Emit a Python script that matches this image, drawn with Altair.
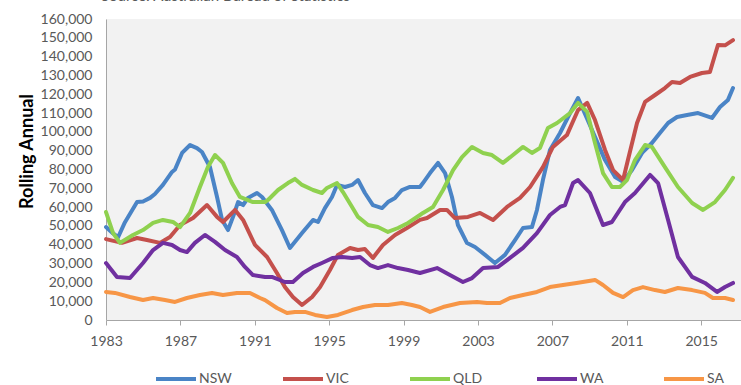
import altair as alt
import pandas as pd

TITLE = "Source: Australian Bureau of Statistics"
STATES = ["NSW", "VIC", "QLD", "WA", "SA"]
COLORS = ["#4A84C6", "#C4504C", "#8FD14F", "#7030A0", "#F79646"]
X_TICKS = [1983, 1987, 1991, 1995, 1999, 2003, 2007, 2011, 2015]

# rolling annual series: (year, value)
nsw_years = [1983.0, 1983.38, 1983.65, 1984.02, 1984.67, 1984.99, 1985.37, 1985.63, 1986.06, 1986.55,
             1986.71, 1987.09, 1987.52, 1987.89, 1988.16, 1988.59, 1988.97, 1989.24, 1989.56, 1989.83,
             1990.1, 1990.37, 1990.63, 1991.12, 1991.39, 1991.92, 1992.46, 1992.89, 1993.54, 1994.13,
             1994.4, 1994.77, 1995.15, 1995.42, 1995.85, 1996.23, 1996.55, 1996.92, 1997.35, 1997.84,
             1998.16, 1998.54, 1998.91, 1999.34, 1999.88, 2000.04, 2000.42, 2000.85, 2001.23, 2001.6,
             2001.92, 2002.41, 2002.84, 2003.38, 2003.91, 2004.45, 2004.99, 2005.42, 2005.9, 2006.17,
             2006.49, 2006.87, 2007.41, 2007.95, 2008.38, 2009.13, 2009.83, 2010.37, 2010.8, 2011.28,
             2011.82, 2012.35, 2012.78, 2013.22, 2013.7, 2014.24, 2014.83, 2015.58, 2016.01, 2016.44,
             2016.71]
nsw_values = [49400, 46000, 44000, 52000, 62700, 63000, 64900, 67000, 71800, 78700,
              80000, 88800, 93000, 91400, 89300, 81300, 65400, 53200, 47800, 54800,
              62700, 61100, 64900, 67500, 65400, 58500, 47800, 38300, 46200, 53200,
              52100, 59500, 65400, 71800, 70700, 71800, 74400, 67500, 61100, 59500,
              62700, 64900, 69100, 70700, 70700, 72800, 78100, 83500, 78100, 65400,
              50500, 40900, 38800, 34600, 30300, 34600, 42500, 48900, 49400, 58500,
              74400, 90400, 99400, 110000, 118000, 101000, 85000, 76000, 73400, 79700,
              88800, 94100, 99400, 104700, 107900, 109000, 110000, 107400, 113200, 117000,
              123300]

vic_years = [1983.0, 1983.86, 1984.67, 1985.2, 1985.9, 1986.44, 1986.98, 1987.68, 1988.43, 1988.97,
             1989.29, 1989.94, 1990.37, 1991.01, 1991.66, 1992.19, 1992.62, 1993.05, 1993.54, 1994.08,
             1994.51, 1995.04, 1995.47, 1996.12, 1996.55, 1996.92, 1997.35, 1997.89, 1998.54, 1999.18,
             1999.88, 2000.26, 2000.96, 2001.33, 2001.76, 2002.46, 2003.11, 2003.81, 2004.56, 2005.26,
             2005.8, 2006.49, 2007.03, 2007.78, 2008.38, 2008.87, 2009.29, 2009.83, 2010.26, 2010.8,
             2011.06, 2011.55, 2011.98, 2012.52, 2013.05, 2013.43, 2013.86, 2014.4, 2015.04, 2015.47,
             2015.9, 2016.28, 2016.71]
vic_values = [43000, 41000, 43600, 42500, 41000, 44100, 50500, 54200, 61100, 54800,
              52100, 58500, 53200, 39900, 33500, 25000, 17500, 12200, 8000, 12200,
              17500, 26600, 34600, 38300, 37200, 37700, 33000, 39900, 45200, 48900,
              53200, 54200, 58500, 58500, 54200, 54800, 56900, 53200, 60100, 64900,
              70700, 81300, 92000, 98300, 111600, 115400, 106300, 90400, 79700, 74400,
              85000, 104700, 115900, 119600, 123300, 126500, 126000, 129200, 131300, 131800,
              146200, 146000, 148800]

qld_years = [1983.0, 1983.38, 1983.75, 1984.45, 1984.99, 1985.53, 1986.06, 1986.6, 1986.98, 1987.52,
             1988.05, 1988.48, 1988.86, 1989.29, 1989.77, 1990.2, 1990.9, 1991.55, 1991.71, 1992.25,
             1992.78, 1993.16, 1993.54, 1994.13, 1994.61, 1994.88, 1995.42, 1995.74, 1996.23, 1996.55,
             1997.09, 1997.62, 1998.16, 1998.7, 1999.24, 1999.88, 2000.04, 2000.58, 2001.12, 2001.66,
             2002.14, 2002.68, 2003.27, 2003.75, 2004.34, 2004.88, 2005.42, 2005.9, 2006.33, 2006.76,
             2007.25, 2007.95, 2008.38, 2008.87, 2009.29, 2009.72, 2010.2, 2010.63, 2011.01, 2011.44,
             2011.98, 2012.35, 2013.05, 2013.75, 2014.51, 2015.1, 2015.74, 2016.28, 2016.71]
qld_values = [57400, 46200, 41000, 45200, 47800, 51600, 53200, 52100, 49400, 56900,
              70700, 81300, 87700, 83500, 72800, 65400, 62700, 62700, 63800, 69100,
              72800, 75000, 71800, 69100, 67500, 70200, 72800, 68000, 60100, 54800,
              50500, 49400, 46800, 48900, 51600, 55800, 56900, 60100, 69100, 79700,
              86600, 92000, 88800, 87700, 83500, 87700, 92000, 88800, 91400, 102000,
              104700, 110000, 115400, 110600, 94100, 78100, 70700, 70700, 74400, 85000,
              93000, 92000, 81300, 70700, 62200, 58500, 62700, 69100, 75500]

wa_years = [1983.0, 1983.59, 1984.29, 1984.99, 1985.53, 1986.06, 1986.55, 1986.98, 1987.35, 1987.78,
            1988.32, 1988.86, 1989.4, 1990.04, 1990.47, 1990.9, 1991.55, 1991.92, 1992.62, 1993.05,
            1993.59, 1994.13, 1994.61, 1995.2, 1995.69, 1996.23, 1996.66, 1997.19, 1997.62, 1998.16,
            1998.7, 1999.24, 1999.88, 2000.8, 2001.49, 2002.19, 2002.68, 2003.27, 2004.08, 2004.72,
            2005.42, 2006.17, 2006.87, 2007.41, 2007.68, 2008.11, 2008.38, 2009.02, 2009.72, 2010.2,
            2010.9, 2011.44, 2012.25, 2012.68, 2013.22, 2013.75, 2014.51, 2015.2, 2015.85, 2016.28,
            2016.71]
wa_values = [30300, 22900, 22300, 30300, 37200, 41000, 39900, 37200, 36100, 41000,
             45200, 41500, 37200, 33500, 28200, 23900, 22900, 22900, 20200, 20200,
             25000, 28200, 30300, 33000, 33500, 33000, 33500, 29200, 27600, 29200,
             27600, 26600, 25000, 27600, 23900, 20200, 22300, 27600, 28200, 33000,
             38300, 46200, 55800, 60100, 61100, 72800, 74400, 67500, 50500, 52100,
             62700, 67500, 77100, 72800, 53200, 33500, 22900, 19700, 14900, 17500,
             19700]

sa_years = [1983.0, 1983.48, 1984.29, 1984.99, 1985.53, 1986.17, 1986.71, 1987.35, 1988.05, 1988.7,
            1989.29, 1990.04, 1990.74, 1991.28, 1991.55, 1992.19, 1992.73, 1993.16, 1993.7, 1994.24,
            1994.88, 1995.47, 1996.23, 1996.82, 1997.46, 1998.16, 1998.91, 1999.45, 1999.88, 2000.42,
            2001.12, 2002.03, 2002.95, 2003.48, 2004.18, 2004.72, 2005.42, 2006.17, 2006.87, 2007.57,
            2008.3, 2009.29, 2009.72, 2010.26, 2010.8, 2011.33, 2011.87, 2012.52, 2013.05, 2013.75,
            2014.51, 2015.2, 2015.63, 2016.28, 2016.71]
sa_values = [14900, 14400, 12200, 10600, 11700, 10600, 9600, 11700, 13300, 14400,
             13300, 14400, 14400, 11700, 10600, 6400, 3700, 4300, 4300, 2700,
             1600, 2700, 5300, 6900, 8000, 8000, 9000, 8000, 6900, 4300,
             6900, 9000, 9600, 9000, 9000, 11700, 13300, 14900, 17500, 18600,
             19700, 21300, 18600, 14400, 12200, 15900, 17500, 15900, 14900, 17000,
             15900, 14400, 11700, 11700, 10600]

series = {
    "NSW": (nsw_years, nsw_values),
    "VIC": (vic_years, vic_values),
    "QLD": (qld_years, qld_values),
    "WA": (wa_years, wa_values),
    "SA": (sa_years, sa_values),
}

rows = []
for state, (yrs, vals) in series.items():
    for yr, v in zip(yrs, vals):
        rows.append({"state": state, "year": yr, "value": v})
df = pd.DataFrame(rows)

FONT = "Lato"
GREY = "#595959"

lines = alt.Chart(df).mark_line(strokeWidth=4, strokeJoin="round", strokeCap="round").encode(
    x=alt.X(
        "year:Q",
        scale=alt.Scale(domain=[1983, 2017.14], nice=False, zero=False),
        axis=alt.Axis(
            values=X_TICKS, format="d", title=None, grid=False,
            tickSize=5, labelPadding=9, labelFontSize=14, labelFont=FONT,
            labelColor=GREY, domainColor="#A6A6A6", tickColor="#A6A6A6",
            labelFlush=False,
        ),
    ),
    y=alt.Y(
        "value:Q",
        scale=alt.Scale(domain=[0, 160000], nice=False),
        axis=alt.Axis(
            values=list(range(0, 160001, 10000)), format=",d", title="Rolling Annual",
            grid=False, ticks=False, labelPadding=14, labelFontSize=14, labelFont=FONT,
            labelColor=GREY, domainColor="#A6A6A6",
            titleFont=FONT, titleFontSize=18, titleFontWeight="bold", titleColor="#000000",
            titleX=-70, titleY=132, titleAngle=270,
        ),
    ),
    color=alt.Color(
        "state:N",
        scale=alt.Scale(domain=STATES, range=COLORS),
        sort=STATES,
        legend=alt.Legend(
            orient="none", legendX=48, legendY=338, direction="horizontal", title=None,
            symbolType="stroke", symbolSize=1600, symbolStrokeWidth=4,
            labelFontSize=14, labelFont=FONT, labelColor=GREY, labelOffset=1,
            gridAlign="all", columnPadding=43, padding=0,
        ),
    ),
    order=alt.Order("year:Q"),
)

source = alt.Chart(pd.DataFrame({"t": [TITLE]})).mark_text(
    align="left", baseline="alphabetic", fontSize=15, font=FONT, color=GREY
).encode(x=alt.value(-5), y=alt.value(-18), text="t:N")

chart = (
    alt.layer(lines, source)
    .properties(
        width=635, height=301,
        autosize=alt.AutoSizeParams(type="none"),
        padding={"left": 106, "top": 19, "right": 0, "bottom": 65},
        background="#FFFFFF",
    )
    .configure_view(fill="#F2F2F2", stroke=None)
)

chart.save("out.html", embed_options={"renderer": "svg", "actions": False})
